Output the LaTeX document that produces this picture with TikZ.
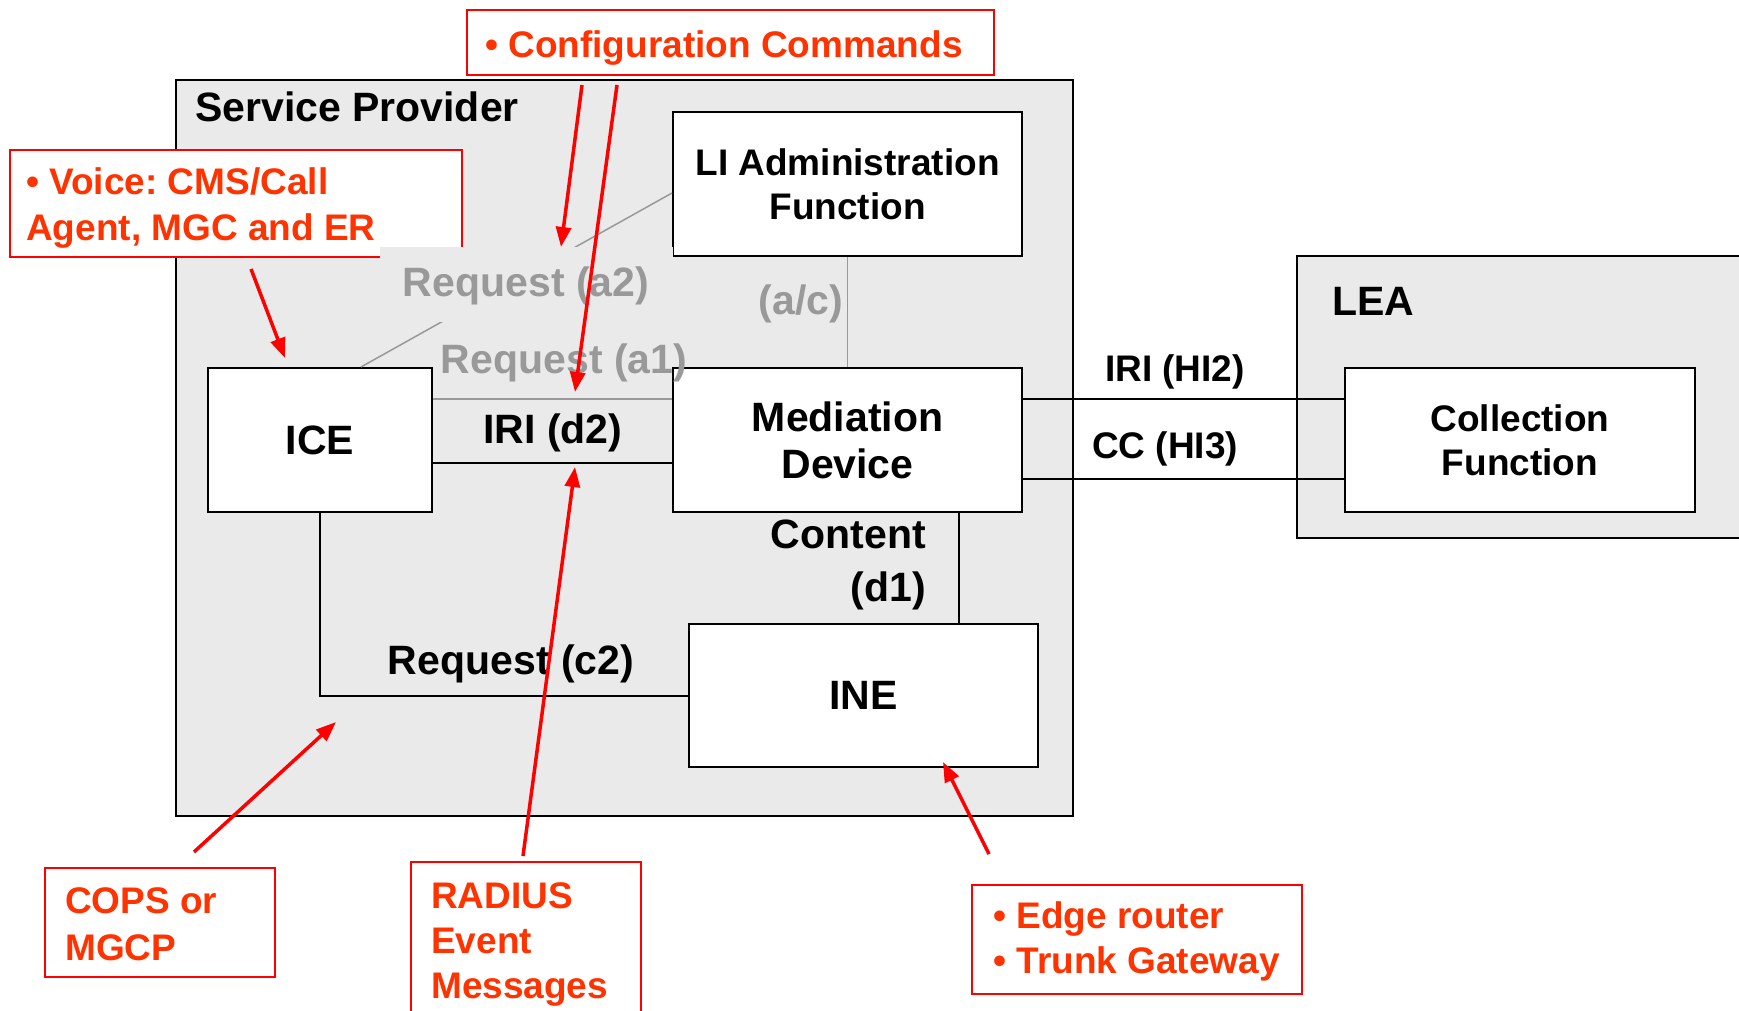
\documentclass[tikz,border=0pt]{standalone}
\usepackage{fontspec}
\setmainfont{Liberation Sans}
\usetikzlibrary{arrows.meta}
\definecolor{spgrey}{HTML}{EAEAEA}
\definecolor{lblgrey}{HTML}{999999}
\definecolor{arrowred}{HTML}{FF0000}
\definecolor{notered}{HTML}{FF3300}
\newcommand\setfs[2]{\fontsize{#1}{#2}\selectfont}
\frenchspacing

\begin{document}
\begin{tikzpicture}[x=1pt,y=-1pt,
  area/.style={draw=black, line width=2pt, fill=spgrey, inner sep=0pt, anchor=north west},
  unit/.style={draw=black, line width=2pt, fill=white, inner sep=0pt, anchor=north west,
    align=center, font=\bfseries\setfs{41}{47}},
  smallunit/.style={unit, font=\bfseries\setfs{37}{44}},
  note/.style={draw=arrowred, line width=2pt, fill=white, inner sep=0pt, anchor=north west},
  % multi-line texts are placed by the baseline of their last line
  notetext/.style={anchor=base west, inner sep=0pt, align=left, text=notered,
    font=\bfseries\setfs{37}{46}},
  link/.style={black, line width=2pt},
  glink/.style={lblgrey, line width=1.5pt},
  lbl/.style={inner sep=0pt, anchor=base, font=\bfseries\setfs{41}{47}},
  smalllbl/.style={lbl, font=\bfseries\setfs{37}{44}},
  glbl/.style={lbl, text=lblgrey},
  callout/.style={arrowred, line width=3.5pt, -{Triangle[length=20pt,width=15pt]}},
]
\clip (0,0) rectangle (1739,1011);
\fill[white] (0,0) rectangle (1739,1011);

% operator and agency domains
\node[area, minimum width=897pt, minimum height=736pt] (SP) at (175,79) {};
\node[lbl, anchor=base west] (SPname) at (195,122) {Service Provider};
\node[area, minimum width=470pt, minimum height=282pt] (LEA) at (1296,255) {};
\node[lbl, anchor=base west] (LEAname) at (1332,315) {LEA};

% upper annotation boxes
\node[note, minimum width=452pt, minimum height=107pt] (Voice) at (9,149) {};
\node[notetext] (VoiceText) at (26,240) {• Voice: CMS/Call\\Agent, MGC and ER};
\node[note, minimum width=527pt, minimum height=65pt] (Cfg) at (466,9) {};
\node[notetext] (CfgText) at (485,58) {• Configuration Commands};

% functional entities
\node[smallunit, minimum width=349pt, minimum height=144pt] (LI) at (672,111) {LI Administration\\Function};
\node[unit, minimum width=224pt, minimum height=144pt] (ICE) at (207,367) {ICE};
\node[unit, minimum width=349pt, minimum height=144pt] (MD) at (672,367) {Mediation\\Device};
\node[unit, minimum width=349pt, minimum height=143pt] (INE) at (688,623) {INE};
\node[smallunit, minimum width=350pt, minimum height=144pt] (CF) at (1344,367) {Collection\\Function};

% interfaces
\draw[glink] (ICE.north -| 361,0) -- (LI.west |- 0,193);
\draw[glink] (ICE.east |- 0,399) -- (MD.west |- 0,399);
\draw[link] (ICE.east |- 0,463) -- (MD.west |- 0,463);
\draw[glink] (LI.south) -- (MD.north);
\draw[link] (MD.south -| 959,0) -- (INE.north -| 959,0);
\draw[link] (ICE.south) |- (INE.west);
\draw[link] (MD.east |- 0,399) -- (CF.west |- 0,399);
\draw[link] (MD.east |- 0,479) -- (CF.west |- 0,479);

% interface labels
\node[glbl, fill=spgrey, minimum width=293pt, text height=32pt, text depth=9pt, inner ysep=17pt] (a2) at (526,296) {Request (a2)};
\node[glbl] (a1) at (564,373) {Request (a1)};
\node[lbl] (d2) at (553,443) {IRI (d2)};
\node[glbl] (ac) at (801,314) {(a/c)};
\node[lbl, anchor=base east, align=right, font=\bfseries\setfs{41}{53}] (d1) at (926,601) {Content\\(d1)};
\node[lbl] (c2) at (511,674) {Request (c2)};
\node[smalllbl] (hi2) at (1175,381) {IRI (HI2)};
\node[smalllbl] (hi3) at (1165,458) {CC (HI3)};

% lower annotation boxes
\node[note, minimum width=230pt, minimum height=109pt] (Cops) at (44,867) {};
\node[notetext, font=\bfseries\setfs{37}{47}] (CopsText) at (65,960) {COPS or\\MGCP};
\node[note, minimum width=230pt, minimum height=200pt] (Radius) at (410,861) {};
\node[notetext, font=\bfseries\setfs{37}{45}] (RadiusText) at (431,998) {RADIUS\\Event\\Messages};
\node[note, minimum width=330pt, minimum height=109pt] (Edge) at (971,884) {};
\node[notetext, font=\bfseries\setfs{37}{45}] (EdgeText) at (993,973) {• Edge router\\• Trunk Gateway};

% call-out arrows
\coordinate (cfgAfrom) at (582,85);  \coordinate (cfgAto) at (561,247);
\coordinate (cfgBfrom) at (617,85);  \coordinate (cfgBto) at (575,392);
\coordinate (voicefrom) at (251,269); \coordinate (voiceto) at (285,358);
\coordinate (copsfrom) at (194,852); \coordinate (copsto) at (336,722);
\coordinate (radfrom) at (523,856);  \coordinate (radto) at (575,467);
\coordinate (edgefrom) at (989,854); \coordinate (edgeto) at (943,762);
\draw[callout] (cfgAfrom) -- (cfgAto);
\draw[callout] (cfgBfrom) -- (cfgBto);
\draw[callout] (voicefrom) -- (voiceto);
\draw[callout] (copsfrom) -- (copsto);
\draw[callout] (radfrom) -- (radto);
\draw[callout] (edgefrom) -- (edgeto);
\end{tikzpicture}
\end{document}
